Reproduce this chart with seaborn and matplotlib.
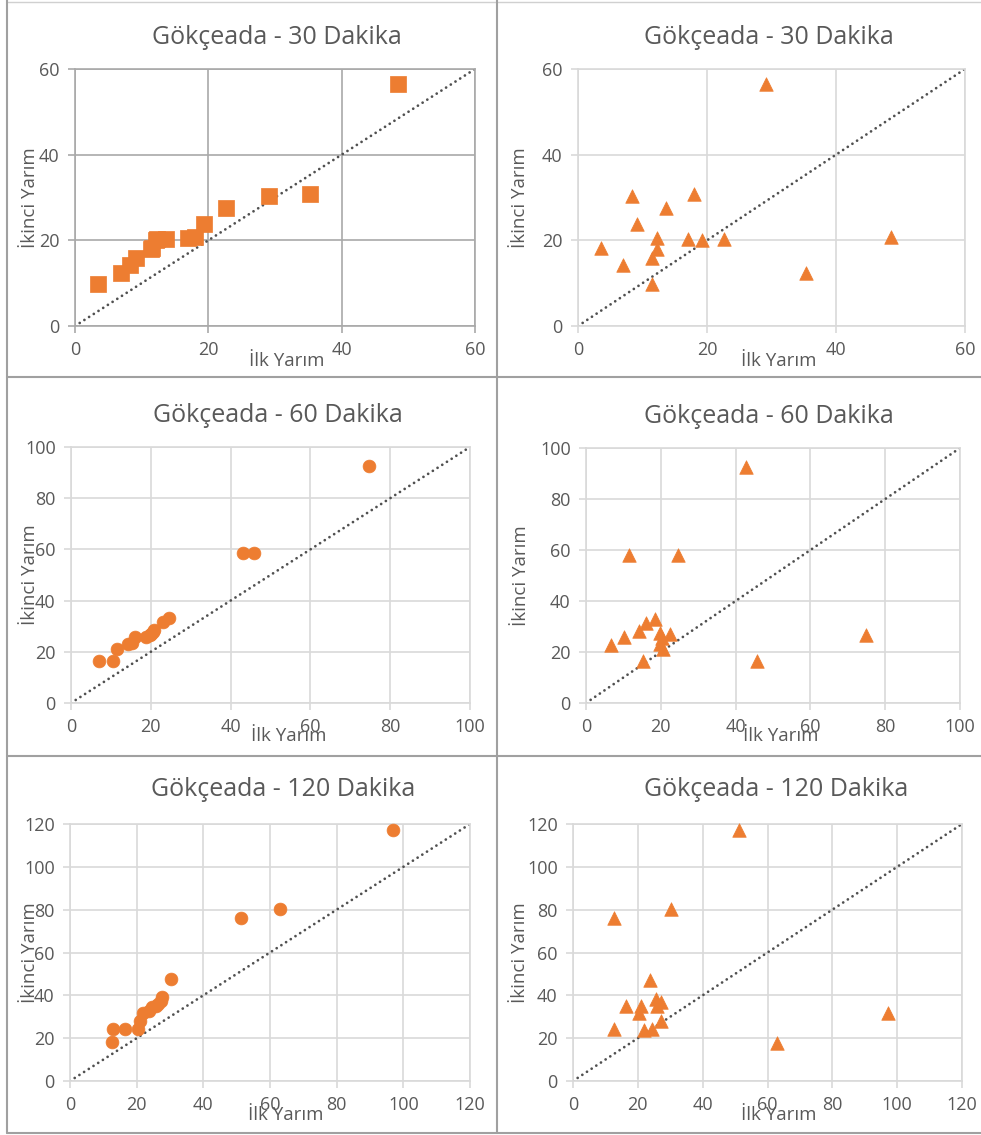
import matplotlib
matplotlib.use("Agg")
import matplotlib.pyplot as plt
from matplotlib.lines import Line2D
import seaborn as sns
import pandas as pd

sns.set_theme(style="white")
plt.rcParams['font.family'] = ['Open Sans', 'DejaVu Sans']

# ---------------- data ----------------
TITLE_30 = "Gökçeada - 30 Dakika"
TITLE_60 = "Gökçeada - 60 Dakika"
TITLE_120 = "Gökçeada - 120 Dakika"
XLABEL = "İlk Yarım"
YLABEL = "İkinci Yarım"

ticks_30 = [0, 20, 40, 60]
ticks_60 = [0, 20, 40, 60, 80, 100]
ticks_120 = [0, 20, 40, 60, 80, 100, 120]

# 30 minutes, sorted (left)
q30_x = [3.5, 6.9, 8.3, 9.2, 11.4, 11.5, 12.2, 12.3, 13.6, 17.0, 18.0, 19.3, 22.6, 29.1, 35.3, 48.5]
q30_y = [9.9, 12.3, 14.2, 15.9, 17.9, 18.1, 20.0, 20.2, 20.4, 20.5, 20.7, 23.7, 27.6, 30.4, 30.9, 56.6]
# 30 minutes, paired (right)
p30_x = [29.1, 8.3, 18.0, 13.6, 9.2, 3.5, 12.3, 12.2, 11.4, 6.9, 11.5, 17.0, 19.3, 22.6, 35.3, 48.5]
p30_y = [56.6, 30.4, 30.9, 27.6, 23.7, 18.1, 20.5, 17.9, 15.9, 14.2, 9.9, 20.2, 20.0, 20.4, 12.3, 20.7]

# 60 minutes, sorted (left)
q60_x = [7.0, 10.5, 11.6, 14.3, 15.3, 16.1, 18.8, 19.7, 20.1, 20.5, 20.9, 23.0, 24.5, 43.0, 45.8, 74.8]
q60_y = [16.3, 16.6, 21.1, 23.1, 23.5, 25.6, 25.9, 26.5, 26.9, 27.6, 28.4, 31.5, 33.1, 58.4, 58.4, 92.5]
# 60 minutes, paired (right)
p60_x = [42.8, 11.4, 24.5, 6.8, 10.1, 14.1, 16.1, 18.5, 19.7, 22.5, 20.3, 19.7, 20.6, 15.2, 45.7, 74.8]
p60_y = [92.5, 58.2, 58.2, 22.9, 25.9, 28.2, 31.4, 33.1, 27.6, 26.9, 25.5, 23.3, 21.0, 16.5, 16.5, 26.5]

# 120 minutes, sorted (left)
q120_x = [12.7, 12.8, 16.5, 20.5, 21.0, 21.8, 23.6, 24.6, 25.8, 26.5, 27.2, 27.5, 30.2, 51.3, 63.0, 97.0]
q120_y = [18.2, 24.1, 24.1, 24.1, 28.0, 31.6, 32.5, 34.5, 35.0, 35.8, 37.3, 39.0, 47.6, 76.0, 80.4, 117.4]
# 120 minutes, paired (right)
p120_x = [51.3, 30.2, 12.6, 23.7, 25.7, 27.3, 16.3, 21.1, 26.0, 20.4, 97.3, 27.1, 12.6, 21.8, 24.4, 62.8]
p120_y = [117.1, 80.2, 75.9, 47.0, 38.5, 36.9, 35.0, 35.0, 35.0, 31.9, 31.9, 28.0, 24.1, 23.7, 24.1, 17.9]

# ---------------- style ----------------
ORANGE = "#ED7D31"
TXT = "#595959"
W, H = 981, 1135

fig = plt.figure(figsize=(W / 100, H / 100), dpi=100)
fig.patch.set_facecolor("white")


def px_axes(left, right, top, bottom):
    return fig.add_axes([left / W, 1 - bottom / H, (right - left) / W, (bottom - top) / H])


panels = [
    # x, y, marker, size, ticks, title, axes box (l, r, t, b), title pos, xlabel pos, ylabel pos, grid colour
    (q30_x, q30_y, "s", 125, ticks_30, TITLE_30, (75, 475, 69, 326), (277, 37), (0.53, -0.135), (-0.112, 0.5), "#a9a9a9"),
    (p30_x, p30_y, "^", 95, ticks_30, TITLE_30, (578, 965, 69, 326), (769, 37), (0.52, -0.135), (-0.15, 0.5), "#d9d9d9"),
    (q60_x, q60_y, "o", 85, ticks_60, TITLE_60, (71, 470, 447, 703), (278, 415), (0.545, -0.13), (-0.102, 0.5), "#d9d9d9"),
    (p60_x, p60_y, "^", 95, ticks_60, TITLE_60, (586, 960, 448, 703), (769, 416), (0.52, -0.128), (-0.175, 0.5), "#d9d9d9"),
    (q120_x, q120_y, "o", 85, ticks_120, TITLE_120, (70, 470, 824, 1081), (283, 790), (0.54, -0.134), (-0.10, 0.5), "#d9d9d9"),
    (p120_x, p120_y, "^", 95, ticks_120, TITLE_120, (573, 962, 824, 1081), (776, 790), (0.53, -0.134), (-0.137, 0.5), "#d9d9d9"),
]

for xs, ys, mk, sz, ticks, title, box, tpos, xlp, ylp, gcol in panels:
    ax = px_axes(*box)
    df = pd.DataFrame({"x": xs, "y": ys})
    lim = ticks[-1]
    ax.set_xlim(0, lim)
    ax.set_ylim(0, lim)
    ax.set_xticks(ticks)
    ax.set_yticks(ticks)
    ax.grid(True, color=gcol, linewidth=1.2)
    ax.set_axisbelow(True)
    for s in ax.spines.values():
        s.set_visible(True)
        s.set_color(gcol)
        s.set_linewidth(1.2)
    ax.tick_params(axis="both", which="major", direction="out", length=5, width=1.2,
                   color=gcol, labelcolor=TXT, labelsize=13, bottom=True, left=True)
    ax.tick_params(axis="x", pad=6)
    ax.tick_params(axis="y", pad=6)
    ax.plot([ticks[0], lim], [ticks[0], lim], color="#505050", linewidth=2.0,
            linestyle=(0, (0.01, 2.0)), dash_capstyle="round", zorder=2)
    sns.scatterplot(data=df, x="x", y="y", marker=mk, s=sz, color=ORANGE,
                    edgecolor=ORANGE, linewidth=0.5, ax=ax, zorder=3, clip_on=False)
    ax.set_xlabel(XLABEL, color=TXT, fontsize=13.5)
    ax.set_ylabel(YLABEL, color=TXT, fontsize=13.5)
    ax.xaxis.set_label_coords(*xlp)
    ax.yaxis.set_label_coords(*ylp)
    ax.xaxis.label.set_va("center")
    ax.yaxis.label.set_va("center")
    fig.text(tpos[0] / W, 1 - tpos[1] / H, title, ha="center", va="center",
             fontsize=18, color=TXT)

# cell borders
BORDER = "#a0a0a0"
def hline(y, x0, x1, c=BORDER, lw=1.5):
    fig.add_artist(Line2D([x0 / W, x1 / W], [1 - y / H, 1 - y / H], color=c, linewidth=lw))

def vline(x, y0, y1, c=BORDER, lw=1.5):
    fig.add_artist(Line2D([x / W, x / W], [1 - y0 / H, 1 - y1 / H], color=c, linewidth=lw))

hline(377, 7, 981)
hline(756, 7, 981)
hline(1133, 7, 981)
hline(2, 7, 981, c="#d0d0d0", lw=1)
vline(7, 0, 1133)
vline(497, 0, 1133)

fig.savefig("out.png", dpi=100, facecolor="white")
